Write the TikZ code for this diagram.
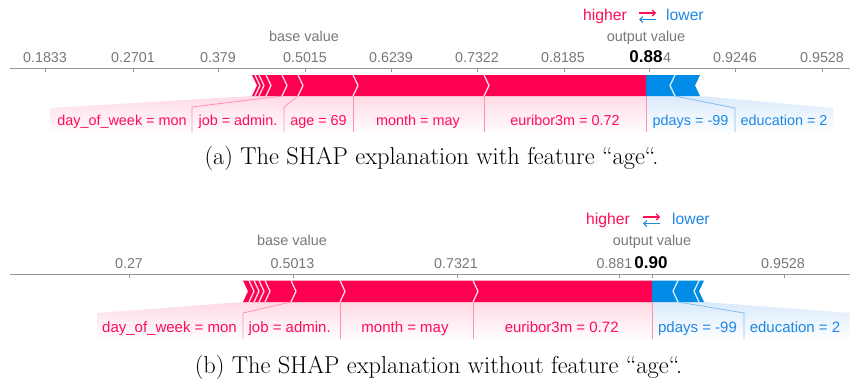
\documentclass[tikz,border=0pt]{standalone}
\usepackage{fontspec}
\newfontfamily\plotfont{Liberation Sans}
\usetikzlibrary{arrows.meta}

\definecolor{posbar}{RGB}{255,0,81}
\definecolor{negbar}{RGB}{0,139,230}
\definecolor{postext}{RGB}{255,13,87}
\definecolor{negtext}{RGB}{30,136,229}
\definecolor{axisgray}{RGB}{150,150,150}
\definecolor{ticktext}{RGB}{120,120,120}
\definecolor{posfade}{RGB}{255,218,229}
\definecolor{negfade}{RGB}{218,234,251}

\tikzset{
  x=1pt, y=-1pt,
  ticklab/.style={font=\plotfont\fontsize{14.3}{16}\selectfont, text=ticktext, anchor=base, inner sep=0pt},
  outlab/.style={font=\plotfont\bfseries\fontsize{17}{19}\selectfont, text=black, anchor=base, inner sep=0pt},
  headlab/.style={font=\plotfont\fontsize{14.4}{16}\selectfont, text=ticktext, anchor=base, inner sep=0pt},
  dirlab/.style={font=\plotfont\fontsize{15.7}{18}\selectfont, anchor=base, inner sep=0pt},
  featlab/.style={font=\plotfont\fontsize{#1}{18}\selectfont, anchor=base, inner sep=0pt},
  axisline/.style={draw=axisgray, line width=0.9pt},
  tickmark/.style={draw=axisgray, line width=0.9pt},
  chev/.style={draw=white, line width=1.3pt, opacity=0.85, line join=miter},
  possep/.style={draw=postext!45, line width=0.8pt},
  negsep/.style={draw=negtext!55, line width=0.8pt},
  posshade/.style={top color=posfade, bottom color=white},
  negshade/.style={top color=negfade, bottom color=white},
  uparrow/.style={line width=1.1pt, -{Straight Barb[length=3pt,width=6pt]}},
  caption/.style={font=\fontsize{24.4}{28}\selectfont, anchor=base, inner sep=0pt},
}

\begin{document}
\begin{tikzpicture}
\useasboundingbox (0,0) rectangle (850,388);
\fill[white] (0,0) rectangle (850,388);

% ================= (a) force plot with "age" =================
% label shading below the bar
\shade[posshade] (50,108) -- (252,96) -- (646,96) -- (646,134) -- (50,134) -- cycle;
\shade[negshade] (646,96) -- (700,96) -- (833,108) -- (833,134) -- (646,134) -- cycle;

% direction legend
\node[dirlab, text=postext, anchor=base east] (a-higher) at (627,20) {higher};
\node[dirlab, text=negtext, anchor=base west] (a-lower) at (666,20) {lower};
\coordinate (a-ar1) at (639,13);
\coordinate (a-ar2) at (656,13);
\coordinate (a-ar3) at (656,19.5);
\coordinate (a-ar4) at (639,19.5);
\draw[uparrow, postext] (a-ar1) -- (a-ar2);
\draw[uparrow, negtext] (a-ar3) -- (a-ar4);

\node[headlab] (a-base) at (304,41.5) {base value};
\node[headlab] (a-out) at (646,41.5) {output value};

% axis
\draw[axisline] (10,68) -- (850,68);
\foreach \tx in {45,133,218,305,391,477,564,649,735,822}
  \draw[tickmark] (\tx,68) -- (\tx,72);
\node[ticklab] (a-t1) at (45,62) {0.1833};
\node[ticklab] (a-t2) at (133,62) {0.2701};
\node[ticklab] (a-t3) at (218,62) {0.379};
\node[ticklab] (a-t4) at (305,62) {0.5015};
\node[ticklab] (a-t5) at (391,62) {0.6239};
\node[ticklab] (a-t6) at (477,62) {0.7322};
\node[ticklab] (a-t7) at (563,62) {0.8185};
\node[ticklab, anchor=base west] (a-t8) at (663,62) {4};
\node[ticklab] (a-t9) at (735,62) {0.9246};
\node[ticklab] (a-t10) at (822,62) {0.9528};
\node[outlab] (a-val) at (646,62) {0.88};

% bar
\fill[posbar] (252,75) -- (646,75) -- (646,96) -- (252,96) -- (257,85.5) -- cycle;
\fill[negbar] (646,75) -- (700,75) -- (695,85.5) -- (700,96) -- (646,96) -- cycle;
\foreach \tp in {260,264,271,287,303,358,489}
  \draw[chev] (\tp-5,75) -- (\tp,85.5) -- (\tp-5,96);
\draw[chev] (675,75) -- (670,85.5) -- (675,96);

% connectors from bar segments to label dividers
\coordinate (a-b1) at (282,96);  \coordinate (a-k1) at (192,107); \coordinate (a-e1) at (192,132);
\coordinate (a-b2) at (298,96);  \coordinate (a-k2) at (284,107); \coordinate (a-e2) at (284,132);
\coordinate (a-b3) at (353,96);  \coordinate (a-e3) at (353,132);
\coordinate (a-b4) at (484,96);  \coordinate (a-e4) at (484,132);
\coordinate (a-b5) at (646,96);  \coordinate (a-e5) at (646,132);
\coordinate (a-b6) at (675,96);  \coordinate (a-k6) at (735,108); \coordinate (a-e6) at (735,132);
\draw[possep] (a-b1) -- (a-k1) -- (a-e1);
\draw[possep] (a-b2) -- (a-k2) -- (a-e2);
\draw[possep] (a-b3) -- (a-e3);
\draw[possep] (a-b4) -- (a-e4);
\draw[possep] (a-b5) -- (a-e5);
\draw[negsep] (a-b6) -- (a-k6) -- (a-e6);

% feature labels
\node[featlab=14.4, text=postext] (a-f1) at (122,125) {day\_of\_week = mon};
\node[featlab=14.4, text=postext] (a-f2) at (238,125) {job = admin.};
\node[featlab=14.4, text=postext] (a-f3) at (318.5,125) {age = 69};
\node[featlab=14.4, text=postext] (a-f4) at (418,125) {month = may};
\node[featlab=14.4, text=postext] (a-f5) at (565,125) {euribor3m = 0.72};
\node[featlab=14.4, text=negtext] (a-f6) at (690.5,125) {pdays = -99};
\node[featlab=14.4, text=negtext] (a-f7) at (784,125) {education = 2};

\node[caption] (a-cap) at (431.5,164) {(a) The SHAP explanation with feature “age“.};

% ================= (b) force plot without "age" =================
\shade[posshade] (97,313) -- (243,302) -- (652,302) -- (652,340) -- (97,340) -- cycle;
\shade[negshade] (652,302) -- (704,302) -- (850,313) -- (850,340) -- (652,340) -- cycle;

\node[dirlab, text=postext, anchor=base east] (b-higher) at (630,224) {higher};
\node[dirlab, text=negtext, anchor=base west] (b-lower) at (672,224) {lower};
\coordinate (b-ar1) at (643,217);
\coordinate (b-ar2) at (660,217);
\coordinate (b-ar3) at (660,223.5);
\coordinate (b-ar4) at (643,223.5);
\draw[uparrow, postext] (b-ar1) -- (b-ar2);
\draw[uparrow, negtext] (b-ar3) -- (b-ar4);

\node[headlab] (b-base) at (292,245.5) {base value};
\node[headlab] (b-out) at (652,245.5) {output value};

\draw[axisline] (10,274) -- (850,274);
\foreach \tx in {129,293,457,619,652,784}
  \draw[tickmark] (\tx,274) -- (\tx,278);
\node[ticklab] (b-t1) at (129,268) {0.27};
\node[ticklab] (b-t2) at (292.5,268) {0.5013};
\node[ticklab] (b-t3) at (456,268) {0.7321};
\node[ticklab, anchor=base east] (b-t4) at (632.5,268) {0.881};
\node[ticklab] (b-t5) at (783,268) {0.9528};
\node[outlab] (b-val) at (651,268) {0.90};

\fill[posbar] (243,280.5) -- (652,280.5) -- (652,302) -- (243,302) -- (248,291.25) -- cycle;
\fill[negbar] (652,280.5) -- (704,280.5) -- (699,291.25) -- (704,302) -- (652,302) -- cycle;
\foreach \tp in {254,259,264,270,296,345,478}
  \draw[chev] (\tp-5,280.5) -- (\tp,291.25) -- (\tp-5,302);
\foreach \tp in {673,694}
  \draw[chev] (\tp+5,280.5) -- (\tp,291.25) -- (\tp+5,302);

\coordinate (b-b1) at (291,302); \coordinate (b-k1) at (243,313); \coordinate (b-e1) at (243,339);
\coordinate (b-b2) at (340,302); \coordinate (b-e2) at (340,339);
\coordinate (b-b3) at (473,302); \coordinate (b-e3) at (473,339);
\coordinate (b-b4) at (652,302); \coordinate (b-e4) at (652,339);
\coordinate (b-b5) at (678,302); \coordinate (b-k5) at (744,313); \coordinate (b-e5) at (744,339);
\draw[possep] (b-b1) -- (b-k1) -- (b-e1);
\draw[possep] (b-b2) -- (b-e2);
\draw[possep] (b-b3) -- (b-e3);
\draw[possep] (b-b4) -- (b-e4);
\draw[negsep] (b-b5) -- (b-k5) -- (b-e5);

\node[featlab=15, text=postext] (b-f1) at (169.5,332) {day\_of\_week = mon};
\node[featlab=15, text=postext] (b-f2) at (289.7,332) {job = admin.};
\node[featlab=15, text=postext] (b-f3) at (405,332) {month = may};
\node[featlab=15, text=postext] (b-f4) at (561.7,332) {euribor3m = 0.72};
\node[featlab=15, text=negtext] (b-f5) at (697.5,332) {pdays = -99};
\node[featlab=15, text=negtext] (b-f6) at (795,332) {education = 2};

\node[caption] (b-cap) at (438.5,373) {(b) The SHAP explanation without feature “age“.};
\end{tikzpicture}
\end{document}
